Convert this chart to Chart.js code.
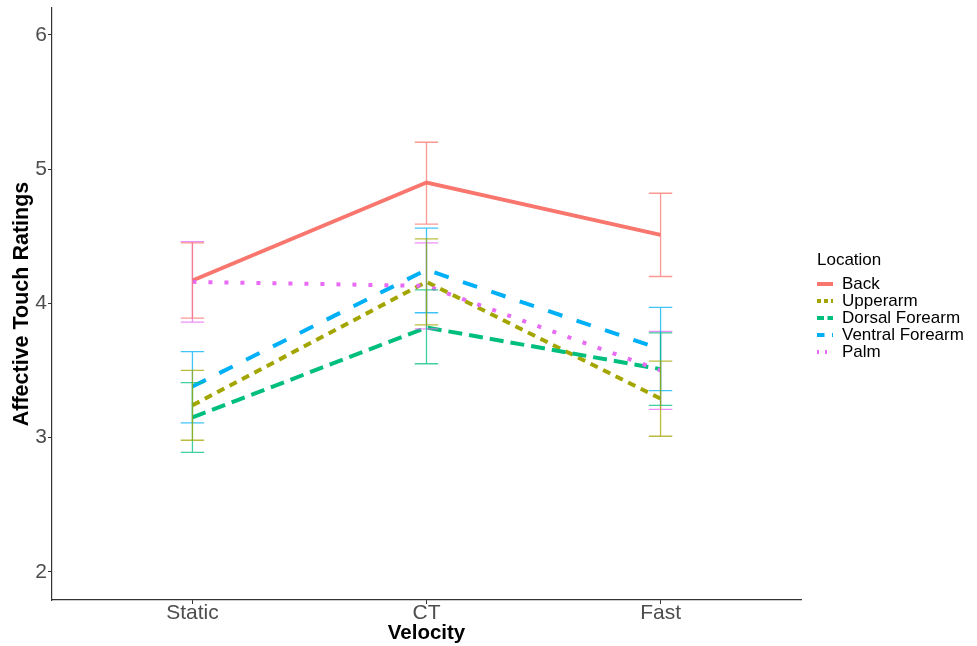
<!DOCTYPE html>
<html>
<head>
<meta charset="utf-8">
<script src="https://cdn.jsdelivr.net/npm/chart.js@4.4.1/dist/chart.umd.min.js"></script>
<style>
  html,body{margin:0;padding:0;background:#fff;}
  #wrap{position:relative;width:977px;height:646px;}
  #legend{position:absolute;left:817px;top:250px;font-family:"Liberation Sans",Arial,sans-serif;color:#000;}
  #legend .ttl{font-size:17px;line-height:20px;margin-bottom:6px;}
  #legend .row{display:flex;align-items:center;height:16.8px;font-size:17px;}
  #legend svg{margin-right:9px;}
</style>
</head>
<body>
<div id="wrap">
  <canvas id="c" width="977" height="646"></canvas>
  <div id="legend"><div class="ttl">Location</div></div>
</div>
<script>
// categories and series
const velocities = ['Static','CT','Fast'];
const locations = ['Back','Upperarm','Dorsal Forearm','Ventral Forearm','Palm'];
const colors = ['#F8766D','#A3A500','#00BF7D','#00B0F6','#E76BF3'];
const dashes = [[],[8,6],[14,7],[15,15],[4,12]];

const backMean = [4.17, 4.90, 4.51];
const backLo   = [3.89, 4.59, 4.20];
const backHi   = [4.45, 5.20, 4.82];

const upperMean = [3.24, 4.16, 3.29];
const upperLo   = [2.98, 3.84, 3.01];
const upperHi   = [3.50, 4.48, 3.57];

const dorsalMean = [3.15, 3.82, 3.51];
const dorsalLo   = [2.89, 3.55, 3.24];
const dorsalHi   = [3.41, 4.10, 3.78];

const ventralMean = [3.38, 4.25, 3.66];
const ventralLo   = [3.11, 3.93, 3.35];
const ventralHi   = [3.64, 4.56, 3.97];

const palmMean = [4.16, 4.13, 3.50];
const palmLo   = [3.86, 3.81, 3.21];
const palmHi   = [4.46, 4.45, 3.79];

const yTicks = [2,3,4,5,6];

const means = [backMean, upperMean, dorsalMean, ventralMean, palmMean];
const lows = [backLo, upperLo, dorsalLo, ventralLo, palmLo];
const highs = [backHi, upperHi, dorsalHi, ventralHi, palmHi];

const FONT = '"Liberation Sans", Arial, sans-serif';

function hexA(hex, a){
  const n = parseInt(hex.slice(1),16);
  return 'rgba('+(n>>16)+','+((n>>8)&255)+','+(n&255)+','+a+')';
}

const datasets = locations.map((name,i)=>({
  label:name,
  data: means[i].map((v,j)=>({x:j,y:v})),
  borderColor:colors[i],
  backgroundColor:colors[i],
  borderWidth:4,
  borderDash:dashes[i],
  pointRadius:0,
  tension:0,
  fill:false,
  order:locations.length-i
}));

// error bars through the scales (Back ends up on top, as in the original)
const errorBars = {
  id:'errorBars',
  afterDatasetsDraw(chart){
    const {ctx, scales:{x,y}} = chart;
    ctx.save();
    ctx.lineWidth = 1.3;
    for(let i=locations.length-1;i>=0;i--){
      ctx.strokeStyle = hexA(colors[i],0.75);
      velocities.forEach((v,j)=>{
        const px = x.getPixelForValue(j);
        const top = y.getPixelForValue(highs[i][j]);
        const bot = y.getPixelForValue(lows[i][j]);
        const hw = x.getPixelForValue(0.05) - x.getPixelForValue(0);
        ctx.beginPath();
        ctx.moveTo(px,top); ctx.lineTo(px,bot);
        ctx.moveTo(px-hw,top); ctx.lineTo(px+hw,top);
        ctx.moveTo(px-hw,bot); ctx.lineTo(px+hw,bot);
        ctx.stroke();
      });
    }
    ctx.restore();
  }
};

new Chart(document.getElementById('c'),{
  type:'line',
  data:{datasets},
  options:{
    responsive:false,
    animation:false,
    layout:{padding:{top:8,right:176,left:0,bottom:0}},
    plugins:{legend:{display:false},tooltip:{enabled:false}},
    scales:{
      x:{
        type:'linear',
        min:-0.6, max:2.6,
        afterBuildTicks(s){ s.ticks = velocities.map((v,j)=>({value:j})); },
        afterFit(s){ s.height = 46; s.paddingLeft = 0; s.paddingRight = 0; },
        ticks:{
          callback:(val)=>velocities[val],
          color:'#4D4D4D',
          font:{family:FONT,size:21},
          padding:-3,
          maxRotation:0
        },
        grid:{drawOnChartArea:false,drawTicks:true,tickLength:4,color:'#333333'},
        border:{display:true,color:'#333333',width:1.2},
        title:{display:true,text:'Velocity',color:'#000',font:{family:FONT,size:20.5,weight:'bold'},padding:{top:0,bottom:0}}
      },
      y:{
        min:1.79, max:6.2,
        afterBuildTicks(s){ s.ticks = yTicks.map(v=>({value:v})); },
        afterFit(s){ s.width = 52; s.paddingTop = 0; s.paddingBottom = 0; },
        ticks:{
          color:'#4D4D4D',
          font:{family:FONT,size:21},
          padding:1
        },
        grid:{drawOnChartArea:false,drawTicks:true,tickLength:4,color:'#333333'},
        border:{display:true,color:'#333333',width:1.2},
        title:{display:true,text:'Affective Touch Ratings',color:'#000',font:{family:FONT,size:21.5,weight:'bold'},padding:{top:9,bottom:0}}
      }
    }
  },
  plugins:[errorBars]
});

// legend
const leg = document.getElementById('legend');
locations.forEach((name,i)=>{
  const row = document.createElement('div');
  row.className = 'row';
  const d = dashes[i].length ? ' stroke-dasharray="'+dashes[i].map(v=>v*0.5).join(',')+'"' : '';
  row.innerHTML = '<svg width="16" height="8"><line x1="0" y1="4" x2="16" y2="4" stroke="'+colors[i]+'" stroke-width="4"'+d+'/></svg><span>'+name+'</span>';
  leg.appendChild(row);
});
</script>
</body>
</html>
